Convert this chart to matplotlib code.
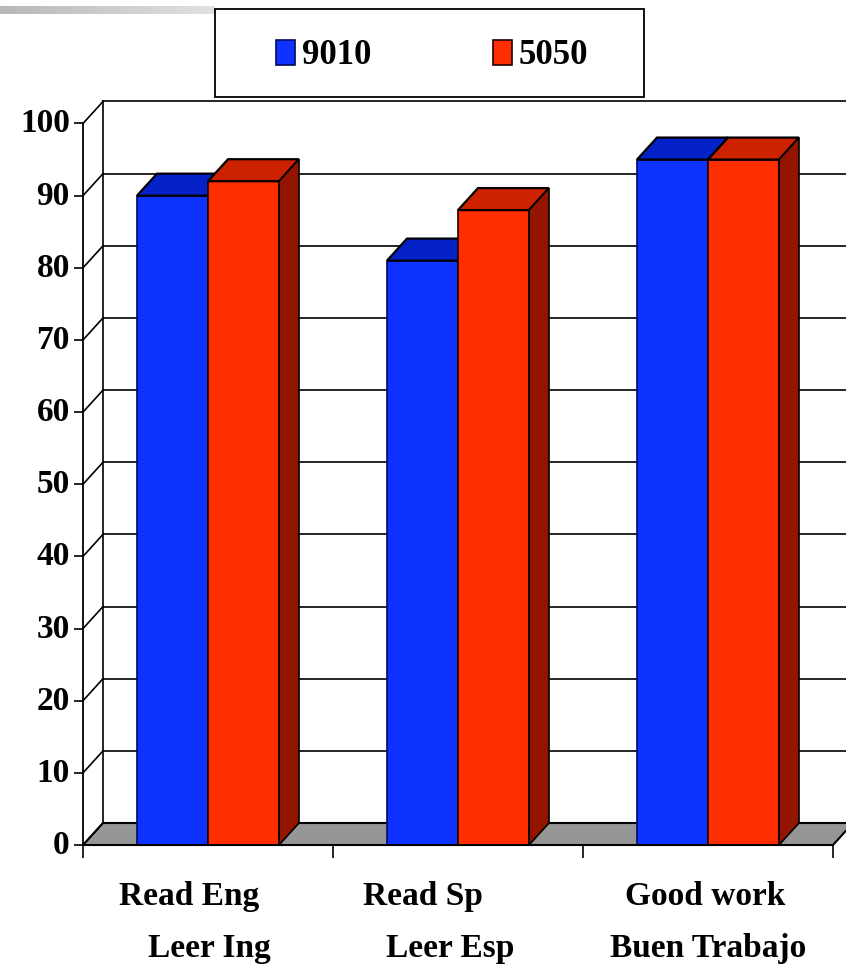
import numpy as np
import matplotlib
matplotlib.use("Agg")
import matplotlib.pyplot as plt
from matplotlib.patches import Polygon, Rectangle
from matplotlib.transforms import ScaledTranslation

plt.rcParams['font.family'] = ['Liberation Serif', 'DejaVu Serif']
plt.rcParams['font.weight'] = 'bold'

# data
categories = [("Read Eng", "Leer Ing"), ("Read Sp", "Leer Esp"), ("Good work", "Buen Trabajo")]
series_names = ["9010", "5050"]
values_9010 = [90, 81, 95]
values_5050 = [92, 88, 95]
y_ticks = list(range(0, 101, 10))

# colours: front, top, side, front edge
BLUE = ("#0f33ff", "#0522c8", "#08198c", "#000a60")
RED = ("#ff2e00", "#cc2200", "#931500", "#200000")
FLOOR = "#969696"

W, H = 846, 966
fig = plt.figure(figsize=(W / 100, H / 100), dpi=100)
ax = fig.add_axes([83 / W, (H - 845) / H, 750 / W, 721.5 / H])
ax.set_xlim(0, 3)
ax.set_ylim(0, 100)

# 3d depth in data units
dx = 20 / 250
dy = 22 / 7.215
bar_w = 0.284
bar_off = 0.216
lw = 1.2

# floor and back wall
ax.add_patch(Polygon([(0, 0), (dx, dy), (3 + dx, dy), (3, 0)], closed=True, fc=FLOOR,
                     ec="black", lw=lw + 0.3, clip_on=False, zorder=1))
for v in y_ticks:
    ax.plot([0, dx], [v, v + dy], color="black", lw=lw, clip_on=False, zorder=1.5)
    ax.plot([dx, 3 + dx], [v + dy, v + dy], color="black", lw=lw, clip_on=False, zorder=1.5)
ax.plot([dx, dx], [dy, 100 + dy], color="black", lw=lw, clip_on=False, zorder=1.5)


def bar3d(x, w, h, cols, z):
    b = ax.bar(x, h, w, align="edge", color=cols[0], edgecolor=cols[3], linewidth=lw, zorder=z)
    ax.add_patch(Polygon([(x, h), (x + dx, h + dy), (x + w + dx, h + dy), (x + w, h)], closed=True,
                         fc=cols[1], ec="black", lw=lw + 0.4, clip_on=False, zorder=z + 0.1))
    ax.add_patch(Polygon([(x + w, 0), (x + w + dx, dy), (x + w + dx, h + dy), (x + w, h)], closed=True,
                         fc=cols[2], ec="black", lw=lw, clip_on=False, zorder=z + 0.1))
    return b


for i in range(len(categories)):
    h1 = bar3d(i + bar_off, bar_w, values_9010[i], BLUE, 2)
    h2 = bar3d(i + bar_off + bar_w, bar_w, values_5050[i], RED, 3)

# axes
for s in ["top", "right"]:
    ax.spines[s].set_visible(False)
for s in ["left", "bottom"]:
    ax.spines[s].set_linewidth(1.3)
    ax.spines[s].set_zorder(5)
ax.patch.set_visible(False)
ax.set_yticks(y_ticks)
ax.set_xticks(range(len(categories) + 1))
ax.set_xticklabels([])
ax.tick_params(axis="y", length=6.5, width=1.2, labelsize=24, pad=3)
ax.tick_params(axis="x", length=9.5, width=1.2)
# labels sit a bit above their ticks
up = ScaledTranslation(0, 3 / 100, fig.dpi_scale_trans)
for lab in ax.get_yticklabels():
    lab.set_transform(lab.get_transform() + up)

# category labels, second line is shifted right like in the original
line1_x = [0.424, 1.36, 2.488]
line2_x = [0.504, 1.468, 2.5]
for i, (l1, l2) in enumerate(categories):
    ax.text(line1_x[i], -8.3, l1, ha="center", va="baseline", fontsize=24, clip_on=False)
    ax.text(line2_x[i], -15.5, l2, ha="center", va="baseline", fontsize=24, clip_on=False)

# legend box
fig.add_artist(Rectangle((215 / W, (H - 97) / H), 429 / W, 88 / H, transform=fig.transFigure,
                         fc="white", ec="black", lw=1.3, zorder=6))
leg = fig.legend([h1, h2], series_names, loc="center", bbox_to_anchor=(432 / W, (H - 56) / H),
                 ncol=2, frameon=False, fontsize=25, handlelength=0.55, handleheight=0.72,
                 handletextpad=0.2, columnspacing=3.5)
leg.set_zorder(7)

# gradient strip on the top
strip = fig.add_axes([0, (H - 14) / H, 215 / W, 8 / H])
strip.imshow(np.linspace(0.72, 0.88, 64).reshape(1, -1), aspect="auto", cmap="gray", vmin=0, vmax=1)
strip.axis("off")

fig.savefig("out.png", dpi=100)
